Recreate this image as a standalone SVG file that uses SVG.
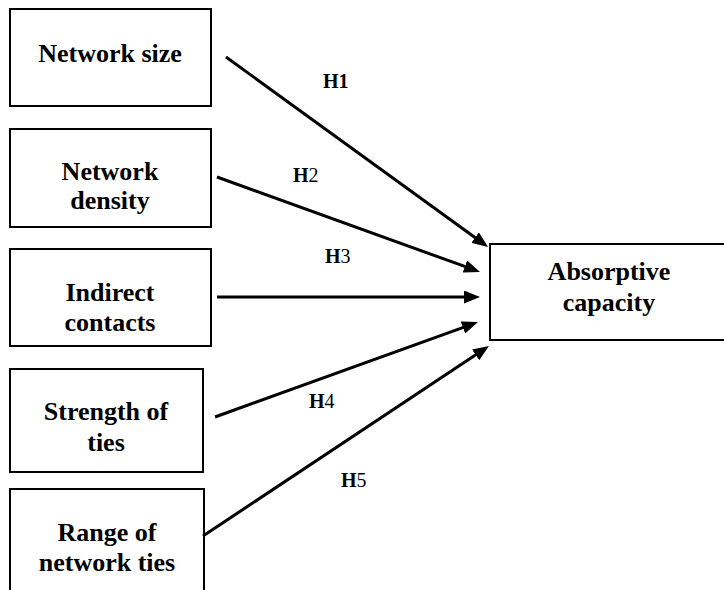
<svg xmlns="http://www.w3.org/2000/svg" width="724" height="590" viewBox="0 0 724 590">
  <style>
    .box { fill: #ffffff; stroke: #000000; stroke-width: 2; }
    .lbl { font-family: "Liberation Serif", "Times New Roman", serif; font-size: 26px; font-weight: bold; fill: #000000; text-anchor: middle; }
    .hyp { font-family: "Liberation Serif", "Times New Roman", serif; font-size: 20px; fill: #000000; }
    .b { font-weight: bold; }
    .conn { stroke: #000000; stroke-width: 3; fill: none; marker-end: url(#arrow); }
  </style>
  <defs>
    <marker id="arrow" viewBox="0 0 16 13" refX="2" refY="6.5" markerWidth="16" markerHeight="13" markerUnits="userSpaceOnUse" orient="auto">
      <path d="M0,0 L16,6.5 L0,13 z" fill="#000000"/>
    </marker>
  </defs>
  <rect width="724" height="590" fill="#ffffff"/>

  <g id="network-size">
    <rect class="box" x="10" y="9" width="201" height="97"/>
    <text class="lbl" x="110" y="62">Network size</text>
  </g>
  <g id="network-density">
    <rect class="box" x="10" y="129" width="201" height="98"/>
    <text class="lbl" x="110" y="180">Network</text>
    <text class="lbl" x="110" y="209">density</text>
  </g>
  <g id="indirect-contacts">
    <rect class="box" x="10" y="249" width="201" height="97"/>
    <text class="lbl" x="110" y="301">Indirect</text>
    <text class="lbl" x="110" y="331">contacts</text>
  </g>
  <g id="strength-of-ties">
    <rect class="box" x="10" y="369" width="193" height="103"/>
    <text class="lbl" x="106" y="420">Strength of</text>
    <text class="lbl" x="106" y="451">ties</text>
  </g>
  <g id="range-of-network-ties">
    <rect class="box" x="10" y="489" width="194" height="120"/>
    <text class="lbl" x="107" y="541">Range of</text>
    <text class="lbl" x="107" y="571">network ties</text>
  </g>
  <g id="absorptive-capacity">
    <rect class="box" x="490" y="244" width="240" height="96"/>
    <text class="lbl" x="609" y="280">Absorptive</text>
    <text class="lbl" x="609" y="311">capacity</text>
  </g>

  <g id="connectors">
    <line class="conn" x1="226" y1="57" x2="476.7" y2="238.8"/>
    <line class="conn" x1="217" y1="177" x2="466.8" y2="267.2"/>
    <line class="conn" x1="217" y1="297" x2="466" y2="297"/>
    <line class="conn" x1="215" y1="417" x2="464.8" y2="326.8"/>
    <line class="conn" x1="203" y1="536" x2="477.3" y2="353.7"/>
  </g>

  <g id="hypothesis-labels">
    <text class="hyp b" x="323" y="88">H1</text>
    <text class="hyp" x="293" y="182"><tspan class="b">H</tspan>2</text>
    <text class="hyp" x="325" y="263"><tspan class="b">H</tspan>3</text>
    <text class="hyp" x="309" y="408"><tspan class="b">H</tspan>4</text>
    <text class="hyp" x="341" y="487"><tspan class="b">H</tspan>5</text>
  </g>
</svg>
